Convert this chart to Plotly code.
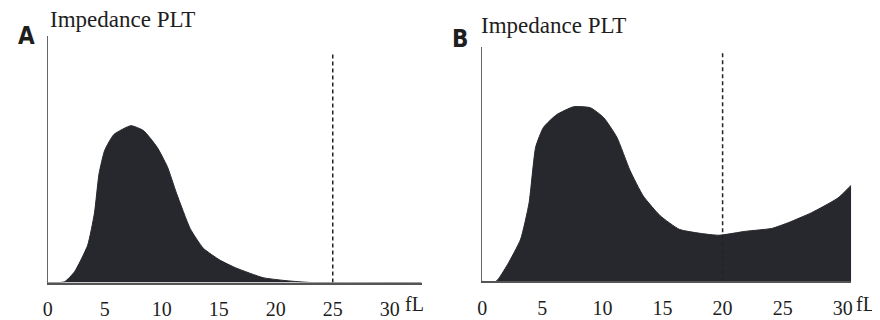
import plotly.graph_objects as go

# Panel A: impedance PLT histogram (arbitrary height units)
vol_a = [0, 1.0, 1.5, 2.35, 3.5, 4.1, 4.5, 5.0, 5.8, 7.3, 8.4, 9.6, 10.5, 11.3, 12.5, 13.65, 15.1, 16.5, 18.9, 20.9, 23.2, 32.8]
cnt_a = [0, 0, 1, 11, 38, 71, 111, 135, 151, 160, 155, 138, 118, 91, 55, 35, 23, 15, 5, 2, 0, 0]
cutoff_a = 25
cutoff_top_a = 235

# Panel B
vol_b = [0, 1.15, 2.1, 3.2, 3.9, 4.45, 5.1, 6.2, 7.6, 9.0, 10.1, 11.2, 12.3, 13.4, 14.8, 16.4, 18.1, 19.7, 21.9, 24.1, 25.5, 27.4, 29.6, 30.7]
cnt_b = [0, 0, 17, 43, 80, 137, 157, 170, 178, 177, 167, 147, 113, 87, 67, 53, 49, 47, 51, 54, 60, 70, 85, 98]
cutoff_b = 20
cutoff_top_b = 235

tick_vals = [0, 5, 10, 15, 20, 25, 30]
tick_text = ["0", "5", "10", "15", "20", "25", "30"]

FILL = "#27282d"
SERIF = "Liberation Serif"
TXT = "#1e1e1e"

# page body has an 8px margin: size the figure so it fits the 880x320 window
OFF = 8
W, H = 880 - OFF, 320 - OFF

def px(p):
    return (p - OFF) / W

def py(p):
    return 1 - (p - OFF) / H

fig = go.Figure()

fig.add_trace(go.Scatter(x=vol_a, y=cnt_a, mode="lines", fill="tozeroy",
                         line=dict(color=FILL, width=1, shape="spline", smoothing=0.5),
                         fillcolor=FILL, xaxis="x", yaxis="y", showlegend=False))
fig.add_trace(go.Scatter(x=[cutoff_a, cutoff_a], y=[0, cutoff_top_a], mode="lines",
                         line=dict(color="#222", width=1.5, dash="4px,3px"),
                         xaxis="x", yaxis="y", showlegend=False))

fig.add_trace(go.Scatter(x=vol_b, y=cnt_b, mode="lines", fill="tozeroy",
                         line=dict(color=FILL, width=1, shape="spline", smoothing=0.5),
                         fillcolor=FILL, xaxis="x2", yaxis="y2", showlegend=False))
fig.add_trace(go.Scatter(x=[cutoff_b, cutoff_b], y=[0, cutoff_top_b], mode="lines",
                         line=dict(color="#222", width=1.5, dash="4px,3px"),
                         xaxis="x2", yaxis="y2", showlegend=False))


def xax(domain, rng):
    return dict(domain=domain, range=rng, showgrid=False, zeroline=False,
                showline=True, linecolor="#555", linewidth=1.5,
                tickvals=tick_vals, ticktext=tick_text, ticks="",
                ticklabelstandoff=8,
                tickfont=dict(family=SERIF, size=20, color=TXT),
                fixedrange=True)

def yax(domain, rng, anchor):
    return dict(domain=domain, range=rng, showgrid=False, zeroline=False,
                showline=True, linecolor="#666", linewidth=1.2,
                showticklabels=False, ticks="", anchor=anchor, fixedrange=True)

fig.update_layout(
    width=W, height=H,
    margin=dict(l=0, r=0, t=0, b=0),
    paper_bgcolor="white", plot_bgcolor="white",
    xaxis=dict(**xax([px(43), px(420)], [0, 32.8]), anchor="y"),
    yaxis=yax([py(288), py(37)], [0, 251], "x"),
    xaxis2=dict(**xax([px(481), px(853)], [0, 30.7]), anchor="y2"),
    yaxis2=yax([py(286.7), py(48)], [0, 238.7], "x2"),
)

LETTER = dict(family="Liberation Sans Narrow, DejaVu Sans Condensed", size=24, color=TXT, weight="bold")
anns = [
    dict(text="A", x=px(22), y=py(37), font=LETTER),
    dict(text="Impedance PLT", x=px(118), y=py(20), font=dict(family=SERIF, size=23, color=TXT)),
    dict(text="B", x=px(459), y=py(40), font=LETTER),
    dict(text="Impedance PLT", x=px(553), y=py(26), font=dict(family=SERIF, size=23, color=TXT)),
    dict(text="fL", x=px(413), y=py(310), font=dict(family=SERIF, size=20, color=TXT)),
    dict(text="fL", x=px(867), y=py(310), font=dict(family=SERIF, size=20, color=TXT)),
]
for a in anns:
    fig.add_annotation(xref="paper", yref="paper", showarrow=False,
                       xanchor="center", yanchor="middle", **a)

fig.write_html("out.html")
